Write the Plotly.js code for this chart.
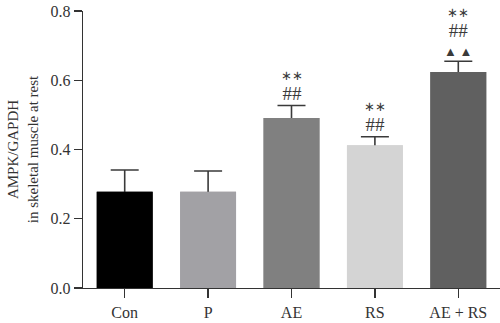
<!DOCTYPE html>
<html><head><meta charset="utf-8">
<script src="https://cdn.plot.ly/plotly-3.0.1.min.js"></script>
<style>html,body{margin:0;padding:0;background:#fff}#c{width:500px;height:323px}</style>
</head><body><div id="c"></div>
<script>
const categories = ["Con", "P", "AE", "RS", "AE + RS"];
const values = [0.278, 0.278, 0.491, 0.412, 0.624];
const errors = [0.063, 0.060, 0.036, 0.025, 0.031];
const colors = ["#000000", "#a2a1a5", "#808080", "#d4d4d4", "#606060"];
const sigStars = ["", "", "∗∗", "∗∗", "∗∗"];
const sigHash = ["", "", "##", "##", "##"];
const sigTri = ["", "", "", "", "▲\u2009▲"];
const yTicks = [0, 0.2, 0.4, 0.6, 0.8];

const font = "Liberation Serif, Times New Roman, serif";
const annotations = [];
categories.forEach((c, i) => {
  const parts = [];
  if (sigStars[i]) parts.push("<span style='font-size:13px'>" + sigStars[i] + "</span>");
  if (sigHash[i]) parts.push("<span style='font-size:19px'>" + sigHash[i] + "</span>");
  if (sigTri[i]) parts.push("<span style='font-size:13px'>" + sigTri[i] + "</span>");
  if (!parts.length) return;
  annotations.push({
    x: c, y: values[i] + errors[i], xref: "x", yref: "y", text: parts.join("<br>"),
    showarrow: false, yanchor: "bottom", yshift: 0,
    font: {family: font, size: 15, color: "#3a3a3a"}
  });
});

const errTrace = {
  type: "bar", x: categories, y: values, width: 0.67,
  marker: {color: colors, line: {width: 0}},
  error_y: {type: "data", array: errors, color: "#3a3a3a", thickness: 1.6, width: 14},
  hoverinfo: "none"
};
const barTrace = {
  type: "bar", x: categories, y: values, width: 0.67,
  marker: {color: colors, line: {width: 0}},
  hoverinfo: "none"
};

const layout = {
  width: 500, height: 323,
  margin: {l: 83, r: 0, t: 11, b: 35},
  paper_bgcolor: "#fff", plot_bgcolor: "#fff",
  showlegend: false, barmode: "overlay",
  font: {family: font, color: "#333", size: 16},
  xaxis: {
    type: "category", range: [-0.5, 4.5], showline: true, linecolor: "#333", linewidth: 1.3,
    ticks: "outside", ticklen: 9, tickwidth: 1.3, tickcolor: "#333", showgrid: false,
    tickfont: {family: font, size: 16, color: "#333"}, zeroline: false, fixedrange: true
  },
  yaxis: {
    range: [0, 0.8], tickvals: yTicks, ticktext: yTicks.map(v => v.toFixed(1)),
    showline: true, linecolor: "#333", linewidth: 1.3, ticks: "outside", ticklen: 8,
    tickwidth: 1.3, tickcolor: "#333", showgrid: false, zeroline: false,
    tickfont: {family: font, size: 16, color: "#333"},
    title: {text: "AMPK/GAPDH<br>in skeletal muscle at rest", standoff: 8,
            font: {family: font, size: 15, color: "#333"}}
  },
  annotations: annotations
};
Plotly.newPlot("c", [errTrace, barTrace], layout, {staticPlot: true, displayModeBar: false});
</script></body></html>
